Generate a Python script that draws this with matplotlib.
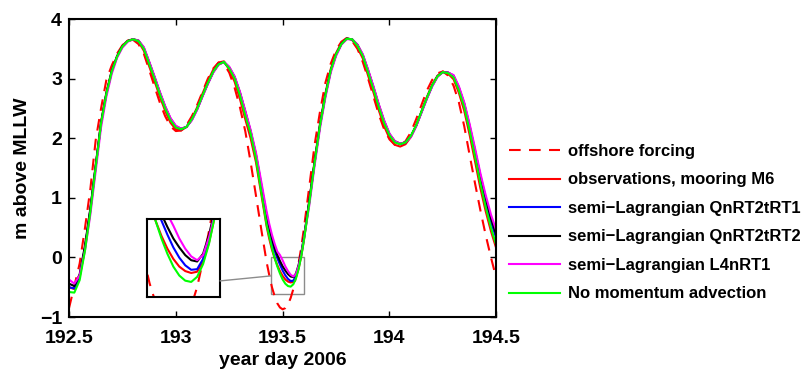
import numpy as np
import matplotlib
matplotlib.use("Agg")
import matplotlib.pyplot as plt
from matplotlib.patches import Rectangle, ConnectionPatch

plt.rcParams['font.family'] = ['Liberation Sans', 'DejaVu Sans']
plt.rcParams['font.weight'] = 'bold'

# sample times (year day 2006), finer spacing through the low water at 193.5
day = [192.500, 192.525, 192.550, 192.575, 192.600, 192.625, 192.650, 192.675,
       192.700, 192.725, 192.750, 192.775, 192.800, 192.825, 192.850, 192.875,
       192.900, 192.925, 192.950, 192.975, 193.000, 193.025, 193.050, 193.075,
       193.100, 193.125, 193.150, 193.175, 193.200, 193.225, 193.250, 193.275,
       193.300, 193.325, 193.350, 193.375, 193.400, 193.425,
       193.4375, 193.450, 193.4625, 193.475, 193.4875, 193.500, 193.5125,
       193.525, 193.5375, 193.550, 193.5625, 193.575, 193.5875,
       193.600, 193.625, 193.650, 193.675, 193.700, 193.725, 193.750, 193.775,
       193.800, 193.825, 193.850, 193.875, 193.900, 193.925, 193.950, 193.975,
       194.000, 194.025, 194.050, 194.075, 194.100, 194.125, 194.150, 194.175,
       194.200, 194.225, 194.250, 194.275, 194.300, 194.325, 194.350, 194.375,
       194.400, 194.425, 194.450, 194.475, 194.500]

# water level, m above MLLW
offshore = [-0.85, -0.48, -0.10, 0.50, 1.15, 1.97, 2.50, 2.98,
            3.22, 3.42, 3.56, 3.64, 3.65, 3.58, 3.42, 3.15,
            2.87, 2.60, 2.37, 2.20, 2.12, 2.13, 2.22, 2.37,
            2.56, 2.78, 3.00, 3.17, 3.27, 3.25, 3.10, 2.85,
            2.52, 2.12, 1.60, 1.04, 0.47, -0.08,
            -0.30, -0.50, -0.65, -0.77, -0.84, -0.87, -0.85,
            -0.79, -0.68, -0.53, -0.32, -0.09, 0.18,
            0.50, 1.20, 1.90, 2.45, 2.93, 3.25, 3.48, 3.62,
            3.68, 3.63, 3.50, 3.28, 3.00, 2.70, 2.40, 2.15,
            1.98, 1.89, 1.88, 1.95, 2.10, 2.32, 2.56, 2.80,
            2.98, 3.09, 3.12, 3.05, 2.88, 2.60, 2.20, 1.72,
            1.25, 0.80, 0.38, 0.00, -0.35]

observed = [-0.50, -0.53, -0.33, 0.16, 0.80, 1.55, 2.27, 2.77,
            3.13, 3.38, 3.55, 3.64, 3.66, 3.62, 3.47, 3.21,
            2.96, 2.70, 2.46, 2.26, 2.15, 2.13, 2.19, 2.33,
            2.52, 2.75, 2.96, 3.15, 3.27, 3.29, 3.15, 2.95,
            2.66, 2.32, 2.00, 1.60, 1.06, 0.52,
            0.31, 0.13, -0.01, -0.13, -0.23, -0.31, -0.37,
            -0.405, -0.42, -0.41, -0.33, -0.18, 0.03,
            0.30, 0.96, 1.63, 2.25, 2.75, 3.16, 3.43, 3.60,
            3.68, 3.65, 3.52, 3.34, 3.05, 2.77, 2.47, 2.20,
            2.00, 1.89, 1.86, 1.90, 2.02, 2.21, 2.45, 2.69,
            2.90, 3.05, 3.12, 3.08, 2.99, 2.76, 2.46, 2.06,
            1.62, 1.17, 0.78, 0.44, 0.15]

qn_rt1 = [-0.50, -0.52, -0.31, 0.17, 0.80, 1.53, 2.25, 2.75,
          3.12, 3.37, 3.54, 3.63, 3.66, 3.63, 3.51, 3.27,
          3.02, 2.76, 2.52, 2.32, 2.19, 2.15, 2.19, 2.31,
          2.49, 2.71, 2.92, 3.11, 3.24, 3.28, 3.18, 3.02,
          2.75, 2.42, 2.10, 1.70, 1.18, 0.66,
          0.44, 0.26, 0.11, -0.01, -0.12, -0.22, -0.30,
          -0.36, -0.395, -0.39, -0.31, -0.15, 0.06,
          0.33, 0.94, 1.60, 2.22, 2.72, 3.13, 3.40, 3.58,
          3.67, 3.66, 3.56, 3.39, 3.12, 2.84, 2.54, 2.27,
          2.06, 1.94, 1.90, 1.93, 2.03, 2.21, 2.44, 2.67,
          2.88, 3.04, 3.11, 3.10, 3.04, 2.83, 2.55, 2.17,
          1.76, 1.33, 0.94, 0.60, 0.32]

qn_rt2 = [-0.44, -0.48, -0.28, 0.20, 0.82, 1.53, 2.25, 2.75,
          3.12, 3.37, 3.54, 3.63, 3.66, 3.64, 3.52, 3.28,
          3.03, 2.77, 2.53, 2.33, 2.20, 2.16, 2.19, 2.31,
          2.49, 2.71, 2.92, 3.11, 3.24, 3.28, 3.19, 3.03,
          2.77, 2.45, 2.12, 1.73, 1.22, 0.71,
          0.50, 0.32, 0.16, 0.04, -0.06, -0.15, -0.22,
          -0.28, -0.32, -0.33, -0.27, -0.12, 0.08,
          0.35, 0.95, 1.61, 2.22, 2.72, 3.13, 3.40, 3.58,
          3.67, 3.66, 3.57, 3.40, 3.14, 2.86, 2.56, 2.29,
          2.07, 1.95, 1.91, 1.93, 2.03, 2.21, 2.44, 2.67,
          2.88, 3.04, 3.11, 3.10, 3.05, 2.85, 2.58, 2.21,
          1.80, 1.38, 1.00, 0.66, 0.38]

l4_rt1 = [-0.37, -0.44, -0.30, 0.12, 0.72, 1.45, 2.18, 2.70,
          3.08, 3.35, 3.52, 3.62, 3.66, 3.64, 3.53, 3.29,
          3.04, 2.78, 2.54, 2.34, 2.21, 2.16, 2.19, 2.30,
          2.48, 2.70, 2.91, 3.10, 3.23, 3.28, 3.20, 3.04,
          2.78, 2.46, 2.14, 1.76, 1.27, 0.77,
          0.56, 0.38, 0.23, 0.10, 0.04, -0.05, -0.15,
          -0.23, -0.29, -0.32, -0.28, -0.14, 0.05,
          0.32, 0.88, 1.55, 2.17, 2.68, 3.10, 3.38, 3.57,
          3.66, 3.66, 3.57, 3.41, 3.15, 2.87, 2.57, 2.30,
          2.08, 1.95, 1.91, 1.93, 2.02, 2.20, 2.43, 2.66,
          2.87, 3.03, 3.11, 3.10, 3.06, 2.87, 2.60, 2.24,
          1.84, 1.42, 1.05, 0.72, 0.45]

no_adv = [-0.58, -0.59, -0.38, 0.12, 0.77, 1.52, 2.25, 2.75,
          3.12, 3.37, 3.54, 3.63, 3.66, 3.63, 3.50, 3.25,
          3.00, 2.74, 2.50, 2.30, 2.18, 2.15, 2.19, 2.32,
          2.50, 2.72, 2.93, 3.12, 3.24, 3.28, 3.17, 3.00,
          2.72, 2.38, 2.08, 1.66, 1.10, 0.55,
          0.35, 0.16, -0.01, -0.15, -0.27, -0.37, -0.44,
          -0.48, -0.49, -0.45, -0.35, -0.19, 0.03,
          0.30, 0.92, 1.60, 2.22, 2.72, 3.14, 3.41, 3.58,
          3.67, 3.66, 3.55, 3.38, 3.10, 2.82, 2.52, 2.25,
          2.05, 1.93, 1.90, 1.93, 2.04, 2.22, 2.45, 2.68,
          2.89, 3.04, 3.11, 3.09, 3.02, 2.80, 2.52, 2.13,
          1.70, 1.25, 0.85, 0.50, 0.20]

labels = ["offshore forcing",
          "observations, mooring M6",
          "semi\u2212Lagrangian QnRT2tRT1",
          "semi\u2212Lagrangian QnRT2tRT2",
          "semi\u2212Lagrangian L4nRT1",
          "No momentum advection"]
series = [offshore, observed, qn_rt1, qn_rt2, l4_rt1, no_adv]
colors = ["#ff0000", "#ff0000", "#0000ff", "#000000", "#ff00ff", "#00ff00"]

# zoom window around the low water
zoom_x = (193.444, 193.598)
zoom_y = (-0.61, 0.0)


def draw_lines(ax):
    lines = []
    for vals, c, lab in zip(series, colors, labels):
        if lab == "offshore forcing":
            ln, = ax.plot(day, vals, color=c, lw=1.5, dashes=(5.6, 4), label=lab)
        else:
            ln, = ax.plot(day, vals, color=c, lw=1.5, label=lab)
        lines.append(ln)
    return lines


fig = plt.figure(figsize=(8.07, 3.73), dpi=100)
ax = fig.add_axes([0.0855, 0.150, 0.5295, 0.799])
lines = draw_lines(ax)

ax.set_xlim(192.5, 194.5)
ax.set_ylim(-1, 4)
ax.set_xticks([192.5, 193, 193.5, 194, 194.5])
ax.set_xticklabels(["192.5", "193", "193.5", "194", "194.5"])
ax.set_yticks([-1, 0, 1, 2, 3, 4])
ax.set_yticklabels(["\u22121", "0", "1", "2", "3", "4"])
ax.tick_params(direction='in', length=4, width=1, top=True, right=True,
               labelsize=14)
ax.tick_params(axis='x', pad=9)
ax.tick_params(axis='y', pad=5)
for s in ax.spines.values():
    s.set_linewidth(1.5)
ax.set_xlabel("year day 2006", fontsize=14, fontweight='bold', labelpad=4)
ax.set_ylabel("m above MLLW", fontsize=14, fontweight='bold', labelpad=6)

# gray box marking the zoomed region
ax.add_patch(Rectangle((zoom_x[0], zoom_y[0]), zoom_x[1] - zoom_x[0],
                       zoom_y[1] - zoom_y[0], fill=False, ec="#8c8c8c", lw=1))

# inset
axin = fig.add_axes([0.1818, 0.203, 0.0908, 0.209])
draw_lines(axin)
axin.set_xlim(*zoom_x)
axin.set_ylim(*zoom_y)
axin.set_xticks([])
axin.set_yticks([])
for s in axin.spines.values():
    s.set_linewidth(1.5)

con = ConnectionPatch(xyA=(1.0, 0.21), coordsA=axin.transAxes,
                      xyB=(zoom_x[0], -0.31), coordsB=ax.transData,
                      color="#8c8c8c", lw=1)
fig.add_artist(con)

fig.legend(handles=lines, labels=labels, loc='upper left',
           bbox_to_anchor=(0.622, 0.632), frameon=False,
           handlelength=3.1, handletextpad=0.45, labelspacing=0.81,
           borderaxespad=0, prop={'weight': 'bold', 'size': 12})

fig.savefig("out.png", dpi=100)
